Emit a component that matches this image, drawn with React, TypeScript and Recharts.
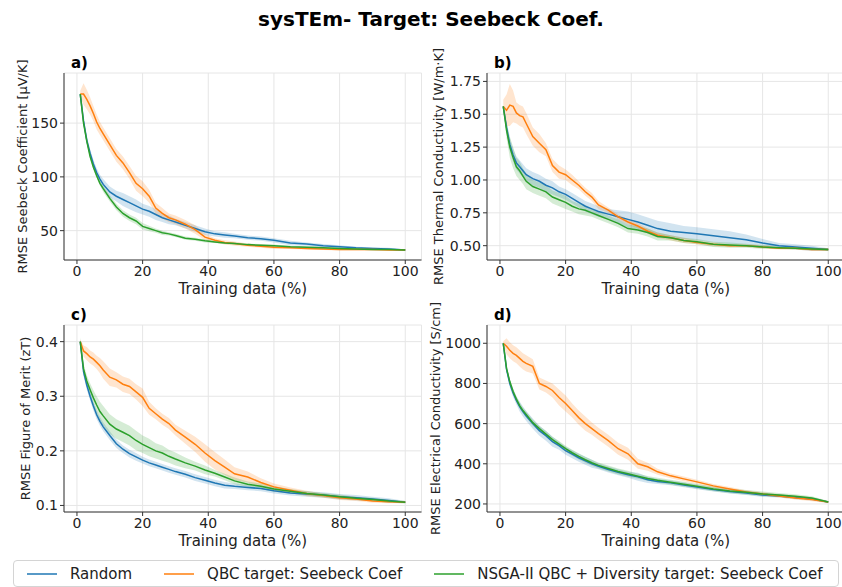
import React from "react";
import {
  ComposedChart,
  Line,
  Area,
  XAxis,
  YAxis,
  CartesianGrid,
  Legend,
  Label,
} from "recharts";

// training set fraction (%) at which each model was evaluated
const trainingPct = [
  1, 2, 3, 4, 5, 6, 7, 8, 10, 12, 14, 16, 18, 20, 22, 24, 26, 28, 30, 33, 36,
  39, 42, 45, 48, 52, 56, 60, 65, 70, 75, 80, 85, 90, 95, 100,
];
const xTicks = [0, 20, 40, 60, 80, 100];
const seriesNames = [
  "Random",
  "QBC target: Seebeck Coef",
  "NSGA-II QBC + Diversity target: Seebeck Coef",
];

// a) Seebeck coefficient RMSE (µV/K)
const seebeckRandom = [177, 152, 134, 122, 112, 104, 98, 93, 86, 82, 79, 76, 73, 70, 68, 65, 62, 60, 58, 55, 52, 49, 47, 46, 45, 43.5, 42.5, 41, 38.5, 37.5, 36, 35, 34, 33.5, 33, 32];
const seebeckRandomSd = [0, 3, 4, 4, 4, 4, 4, 5, 5, 5, 6, 6, 6, 5, 5, 5, 4, 4, 3, 3, 3, 3, 2.5, 2.5, 2, 2, 2, 2, 2, 1.5, 1.5, 1.5, 1, 1, 1, 0.5];
const seebeckQbc = [177, 177, 172, 166, 159, 151, 145, 140, 130, 120, 113, 104, 94, 89, 82, 71, 66, 62, 60, 56, 51, 44, 41, 39, 38, 36.5, 35.5, 34.5, 34, 33.5, 33, 32.5, 32.5, 32.5, 32, 32];
const seebeckQbcSd = [3, 10, 9, 8, 7, 7, 6, 6, 6, 6, 6, 6, 7, 7, 6, 5, 5, 4, 4, 4, 4, 3, 2, 2, 2, 1.5, 1.5, 1.5, 1, 1, 1, 1, 1, 1, 0.5, 0.5];
const seebeckNsga = [177, 150, 133, 119, 109, 101, 94, 89, 80, 72, 66, 62, 59, 54, 52, 50, 48, 47, 45.5, 43, 42, 40.5, 39.5, 38.5, 38, 37, 36.5, 36, 35, 34.5, 34, 33.5, 33, 32.5, 32.5, 32];
const seebeckNsgaSd = [0, 2, 2, 2, 2, 2, 2, 3, 3, 3, 3, 3, 3, 3, 2.5, 2, 2, 1.5, 1.5, 1.5, 1.5, 1.5, 1, 1, 1, 1, 1, 1, 1, 1, 1, 0.5, 0.5, 0.5, 0.5, 0.5];

// b) thermal conductivity RMSE (W/m·K)
const thermalRandom = [1.56, 1.4, 1.27, 1.19, 1.13, 1.1, 1.07, 1.04, 1.01, 0.99, 0.96, 0.94, 0.91, 0.89, 0.86, 0.83, 0.8, 0.78, 0.76, 0.74, 0.72, 0.7, 0.68, 0.655, 0.63, 0.61, 0.6, 0.59, 0.575, 0.56, 0.545, 0.52, 0.5, 0.49, 0.48, 0.47];
const thermalRandomSd = [0, 0.04, 0.05, 0.05, 0.05, 0.05, 0.05, 0.05, 0.05, 0.05, 0.05, 0.05, 0.04, 0.04, 0.04, 0.04, 0.04, 0.04, 0.04, 0.04, 0.05, 0.06, 0.06, 0.06, 0.06, 0.06, 0.05, 0.05, 0.05, 0.05, 0.04, 0.03, 0.02, 0.02, 0.02, 0.01];
const thermalQbc = [1.56, 1.53, 1.57, 1.56, 1.51, 1.49, 1.48, 1.43, 1.33, 1.28, 1.23, 1.11, 1.06, 1.04, 1.0, 0.96, 0.91, 0.87, 0.81, 0.77, 0.72, 0.68, 0.65, 0.61, 0.58, 0.56, 0.54, 0.525, 0.51, 0.5, 0.5, 0.49, 0.48, 0.48, 0.47, 0.47];
const thermalQbcSd = [0.05, 0.12, 0.16, 0.12, 0.08, 0.08, 0.08, 0.08, 0.07, 0.07, 0.05, 0.05, 0.05, 0.04, 0.04, 0.03, 0.03, 0.03, 0.03, 0.02, 0.02, 0.02, 0.02, 0.02, 0.02, 0.02, 0.02, 0.015, 0.015, 0.01, 0.01, 0.01, 0.01, 0.01, 0.01, 0.01];
const thermalNsga = [1.56, 1.38, 1.25, 1.17, 1.1, 1.07, 1.03, 0.99, 0.95, 0.93, 0.91, 0.87, 0.85, 0.83, 0.8, 0.78, 0.77, 0.75, 0.73, 0.7, 0.67, 0.63, 0.62, 0.6, 0.57, 0.56, 0.54, 0.53, 0.51, 0.505, 0.5, 0.49, 0.485, 0.48, 0.475, 0.47];
const thermalNsgaSd = [0, 0.06, 0.08, 0.08, 0.07, 0.07, 0.06, 0.06, 0.05, 0.05, 0.05, 0.05, 0.05, 0.05, 0.04, 0.04, 0.04, 0.03, 0.03, 0.03, 0.03, 0.03, 0.03, 0.03, 0.03, 0.02, 0.02, 0.02, 0.02, 0.02, 0.015, 0.015, 0.01, 0.01, 0.01, 0.01];

// c) figure of merit RMSE (zT)
const meritRandom = [0.4, 0.345, 0.32, 0.3, 0.282, 0.266, 0.254, 0.244, 0.228, 0.213, 0.203, 0.195, 0.189, 0.183, 0.178, 0.174, 0.17, 0.166, 0.162, 0.157, 0.151, 0.146, 0.141, 0.137, 0.135, 0.133, 0.131, 0.127, 0.123, 0.121, 0.119, 0.116, 0.114, 0.112, 0.109, 0.106];
const meritRandomSd = [0, 0.008, 0.008, 0.008, 0.008, 0.008, 0.008, 0.008, 0.008, 0.008, 0.007, 0.007, 0.007, 0.006, 0.006, 0.006, 0.006, 0.006, 0.006, 0.006, 0.006, 0.006, 0.006, 0.006, 0.005, 0.005, 0.005, 0.005, 0.005, 0.005, 0.005, 0.005, 0.005, 0.004, 0.004, 0.002];
const meritQbc = [0.4, 0.383, 0.378, 0.372, 0.368, 0.362, 0.356, 0.348, 0.335, 0.33, 0.322, 0.318, 0.308, 0.298, 0.278, 0.268, 0.258, 0.25, 0.238, 0.225, 0.212, 0.196, 0.182, 0.17, 0.158, 0.152, 0.142, 0.134, 0.128, 0.122, 0.118, 0.114, 0.112, 0.108, 0.107, 0.106];
const meritQbcSd = [0.004, 0.01, 0.012, 0.012, 0.012, 0.012, 0.014, 0.016, 0.016, 0.014, 0.014, 0.014, 0.014, 0.016, 0.012, 0.01, 0.01, 0.01, 0.01, 0.012, 0.014, 0.016, 0.016, 0.014, 0.012, 0.01, 0.008, 0.006, 0.005, 0.005, 0.004, 0.004, 0.004, 0.003, 0.003, 0.002];
const meritNsga = [0.4, 0.35, 0.328, 0.312, 0.297, 0.284, 0.272, 0.264, 0.249, 0.24, 0.234, 0.228, 0.219, 0.212, 0.206, 0.2, 0.196, 0.19, 0.185, 0.178, 0.172, 0.165, 0.159, 0.152, 0.145, 0.139, 0.135, 0.13, 0.126, 0.122, 0.119, 0.116, 0.113, 0.111, 0.108, 0.106];
const meritNsgaSd = [0.008, 0.01, 0.01, 0.012, 0.014, 0.016, 0.018, 0.018, 0.018, 0.018, 0.018, 0.018, 0.018, 0.016, 0.016, 0.014, 0.014, 0.012, 0.012, 0.01, 0.008, 0.008, 0.006, 0.006, 0.006, 0.005, 0.005, 0.005, 0.004, 0.004, 0.004, 0.004, 0.003, 0.003, 0.003, 0.002];

// d) electrical conductivity RMSE (S/cm)
const elecRandom = [1000, 870, 800, 752, 715, 685, 660, 638, 600, 565, 540, 510, 490, 465, 448, 430, 415, 400, 388, 372, 358, 345, 335, 320, 312, 305, 295, 285, 272, 262, 255, 245, 240, 232, 225, 210];
const elecRandomSd = [0, 15, 20, 20, 20, 25, 25, 25, 25, 25, 25, 25, 20, 20, 20, 20, 20, 20, 15, 15, 15, 15, 20, 15, 12, 12, 12, 12, 10, 10, 10, 10, 8, 8, 8, 5];
const elecQbc = [1000, 985, 965, 950, 940, 925, 910, 900, 885, 800, 785, 765, 730, 700, 665, 630, 600, 575, 550, 515, 475, 450, 400, 385, 360, 340, 325, 310, 290, 275, 260, 250, 240, 230, 222, 210];
const elecQbcSd = [10, 40, 40, 40, 40, 40, 40, 40, 35, 30, 30, 35, 40, 40, 35, 35, 35, 30, 30, 30, 30, 30, 25, 20, 15, 12, 12, 10, 10, 10, 8, 8, 8, 8, 8, 5];
const elecNsga = [1000, 875, 808, 760, 722, 690, 665, 645, 605, 575, 548, 520, 498, 475, 455, 437, 420, 405, 392, 377, 362, 350, 338, 327, 318, 308, 298, 288, 275, 265, 258, 250, 245, 238, 230, 210];
const elecNsgaSd = [0, 15, 15, 15, 15, 15, 15, 15, 15, 15, 15, 15, 15, 15, 15, 15, 15, 15, 15, 15, 15, 15, 12, 12, 12, 12, 12, 12, 12, 12, 12, 12, 10, 10, 8, 5];

const BLUE = "#1f77b4";
const ORANGE = "#ff7f0e";
const GREEN = "#2ca02c";
const FONT = "DejaVu Sans, sans-serif";

const PLOT_W = 357.5;
const PLOT_H = 187;
const Y_AXIS_W = 60;
const TOP_PAD = 30; // room for the long rotated y titles
const X_AXIS_H = 20;
const BOTTOM_PAD = 28;
const RIGHT_PAD = 2;

function buildRows(
  rnd: number[], rndSd: number[],
  qbc: number[], qbcSd: number[],
  nsga: number[], nsgaSd: number[]
) {
  return trainingPct.map((x, i) => ({
    x,
    rnd: rnd[i],
    qbc: qbc[i],
    nsga: nsga[i],
    rndBand: [rnd[i] - rndSd[i], rnd[i] + rndSd[i]],
    qbcBand: [qbc[i] - qbcSd[i], qbc[i] + qbcSd[i]],
    nsgaBand: [nsga[i] - nsgaSd[i], nsga[i] + nsgaSd[i]],
  }));
}

const legendBox = ({ payload }: any) => {
  const items = [...(payload ?? [])]
    .filter((p: any) => seriesNames.includes(p.value))
    .sort((a: any, b: any) => seriesNames.indexOf(a.value) - seriesNames.indexOf(b.value));
  return (
    <div
      style={{
        display: "flex",
        alignItems: "center",
        height: 27,
        boxSizing: "border-box",
        border: "1px solid #d4d4d4",
        borderRadius: 4,
        background: "#fff",
        fontFamily: FONT,
        fontSize: 15,
        color: "#222",
      }}
    >
      {items.map((p: any, i: number) => (
        <div key={p.value} style={{ display: "flex", alignItems: "center", marginLeft: i === 0 ? 13 : 32 }}>
          <svg width={30} height={4}>
            <line x1={0} x2={30} y1={2} y2={2} stroke={p.color} strokeWidth={1.5} />
          </svg>
          <span style={{ marginLeft: 13, whiteSpace: "nowrap" }}>{p.value}</span>
        </div>
      ))}
    </div>
  );
};

type PanelProps = {
  left: number;
  top: number;
  rows: ReturnType<typeof buildRows>;
  yDomain: [number, number];
  yTicks: number[];
  fmt: (v: number) => string;
  yTitle: string;
  yTitleX: number;
  withLegend?: boolean;
};

function Panel({ left, top, rows, yDomain, yTicks, fmt, yTitle, yTitleX, withLegend }: PanelProps) {
  const w = Y_AXIS_W + PLOT_W + RIGHT_PAD;
  const h = TOP_PAD + PLOT_H + X_AXIS_H + BOTTOM_PAD;
  const chartLeft = left - Y_AXIS_W;
  const chartTop = top - TOP_PAD;
  const midY = TOP_PAD + PLOT_H / 2;
  return (
    <div style={{ position: "absolute", left: chartLeft, top: chartTop }}>
      <ComposedChart
        width={w}
        height={h}
        data={rows}
        margin={{ top: TOP_PAD, right: RIGHT_PAD, bottom: BOTTOM_PAD, left: 0 }}
      >
        <CartesianGrid stroke="#e6e6e6" />
        <XAxis
          dataKey="x"
          type="number"
          domain={[-3.95, 104.95]}
          allowDataOverflow
          ticks={xTicks}
          interval={0}
          height={X_AXIS_H}
          stroke="#333"
          tickSize={4}
          tickMargin={2}
          tick={{ fill: "#222", fontSize: 14, fontFamily: FONT }}
        >
          <Label
            content={() => (
              <text
                x={Y_AXIS_W + PLOT_W / 2}
                y={TOP_PAD + PLOT_H + 29}
                textAnchor="middle"
                dominantBaseline="central"
                fontSize={15}
                fontFamily={FONT}
                fill="#222"
              >
                Training data (%)
              </text>
            )}
          />
        </XAxis>
        <XAxis
          xAxisId="top"
          orientation="top"
          dataKey="x"
          type="number"
          domain={[-3.95, 104.95]}
          allowDataOverflow
          height={0}
          tick={false}
          tickLine={false}
          stroke="#333"
        />
        <YAxis
          type="number"
          domain={yDomain}
          allowDataOverflow
          ticks={yTicks}
          interval={0}
          width={Y_AXIS_W}
          stroke="#333"
          tickSize={4}
          tickMargin={2}
          tickFormatter={fmt}
          tick={{ fill: "#222", fontSize: 14, fontFamily: FONT }}
        >
          <Label
            content={() => (
              <text
                x={yTitleX}
                y={midY}
                transform={`rotate(-90, ${yTitleX}, ${midY})`}
                textAnchor="middle"
                dominantBaseline="central"
                fontSize={13}
                fontFamily={FONT}
                fill="#222"
              >
                {yTitle}
              </text>
            )}
          />
        </YAxis>
        <YAxis
          yAxisId="right"
          orientation="right"
          type="number"
          domain={yDomain}
          allowDataOverflow
          width={0}
          tick={false}
          tickLine={false}
          stroke="#333"
        />
        <Area dataKey="rndBand" type="linear" stroke="none" fill={BLUE} fillOpacity={0.2} legendType="none" isAnimationActive={false} />
        <Area dataKey="qbcBand" type="linear" stroke="none" fill={ORANGE} fillOpacity={0.2} legendType="none" isAnimationActive={false} />
        <Area dataKey="nsgaBand" type="linear" stroke="none" fill={GREEN} fillOpacity={0.2} legendType="none" isAnimationActive={false} />
        <Line dataKey="rnd" name={seriesNames[0]} type="linear" stroke={BLUE} strokeWidth={1.5} dot={false} legendType="plainline" isAnimationActive={false} />
        <Line dataKey="qbc" name={seriesNames[1]} type="linear" stroke={ORANGE} strokeWidth={1.5} dot={false} legendType="plainline" isAnimationActive={false} />
        <Line dataKey="nsga" name={seriesNames[2]} type="linear" stroke={GREEN} strokeWidth={1.5} dot={false} legendType="plainline" isAnimationActive={false} />
        {withLegend && (
          <Legend
            layout="horizontal"
            verticalAlign="middle"
            align="center"
            content={legendBox}
            wrapperStyle={{ left: 13 - chartLeft, top: 560 - chartTop, width: 826 }}
          />
        )}
      </ComposedChart>
    </div>
  );
}

const seebeckRows = buildRows(seebeckRandom, seebeckRandomSd, seebeckQbc, seebeckQbcSd, seebeckNsga, seebeckNsgaSd);
const thermalRows = buildRows(thermalRandom, thermalRandomSd, thermalQbc, thermalQbcSd, thermalNsga, thermalNsgaSd);
const meritRows = buildRows(meritRandom, meritRandomSd, meritQbc, meritQbcSd, meritNsga, meritNsgaSd);
const elecRows = buildRows(elecRandom, elecRandomSd, elecQbc, elecQbcSd, elecNsga, elecNsgaSd);

export default function App() {
  return (
    <div
      style={{
        position: "absolute",
        left: 0,
        top: 0,
        width: 842,
        height: 587,
        overflow: "hidden",
        background: "#fff",
        fontFamily: FONT,
      }}
    >
      <Panel
        left={63.5}
        top={73}
        rows={seebeckRows}
        yDomain={[22.7, 196.6]}
        yTicks={[50, 100, 150]}
        fmt={(v) => String(v)}
        yTitle="RMSE Seebeck Coefficient [μV/K]"
        yTitleX={18.5}
      />
      <Panel
        left={486.7}
        top={73}
        rows={thermalRows}
        yDomain={[0.391, 1.814]}
        yTicks={[0.5, 0.75, 1.0, 1.25, 1.5, 1.75]}
        fmt={(v) => v.toFixed(2)}
        yTitle="RMSE Thermal Conductivity [W/m·K]"
        yTitleX={11.8}
      />
      <Panel
        left={63.5}
        top={325}
        rows={meritRows}
        yDomain={[0.088, 0.4305]}
        yTicks={[0.1, 0.2, 0.3, 0.4]}
        fmt={(v) => v.toFixed(1)}
        yTitle="RMSE Figure of Merit (zT)"
        yTitleX={21.5}
        withLegend
      />
      <Panel
        left={486.7}
        top={325}
        rows={elecRows}
        yDomain={[160, 1091]}
        yTicks={[200, 400, 600, 800, 1000]}
        fmt={(v) => String(v)}
        yTitle="RMSE Electrical Conductivity [S/cm]"
        yTitleX={8.3}
      />
      <svg
        width={842}
        height={587}
        style={{ position: "absolute", left: 0, top: 0, pointerEvents: "none" }}
      >
        <text x={431} y={26} textAnchor="middle" fontWeight="bold" fontSize={20} fontFamily={FONT} fill="#000">
          sysTEm- Target: Seebeck Coef.
        </text>
        <text x={71} y={68} fontWeight="bold" fontSize={15} fontFamily={FONT} fill="#000">a)</text>
        <text x={494} y={68} fontWeight="bold" fontSize={15} fontFamily={FONT} fill="#000">b)</text>
        <text x={71} y={320} fontWeight="bold" fontSize={15} fontFamily={FONT} fill="#000">c)</text>
        <text x={494} y={320} fontWeight="bold" fontSize={15} fontFamily={FONT} fill="#000">d)</text>
      </svg>
    </div>
  );
}
